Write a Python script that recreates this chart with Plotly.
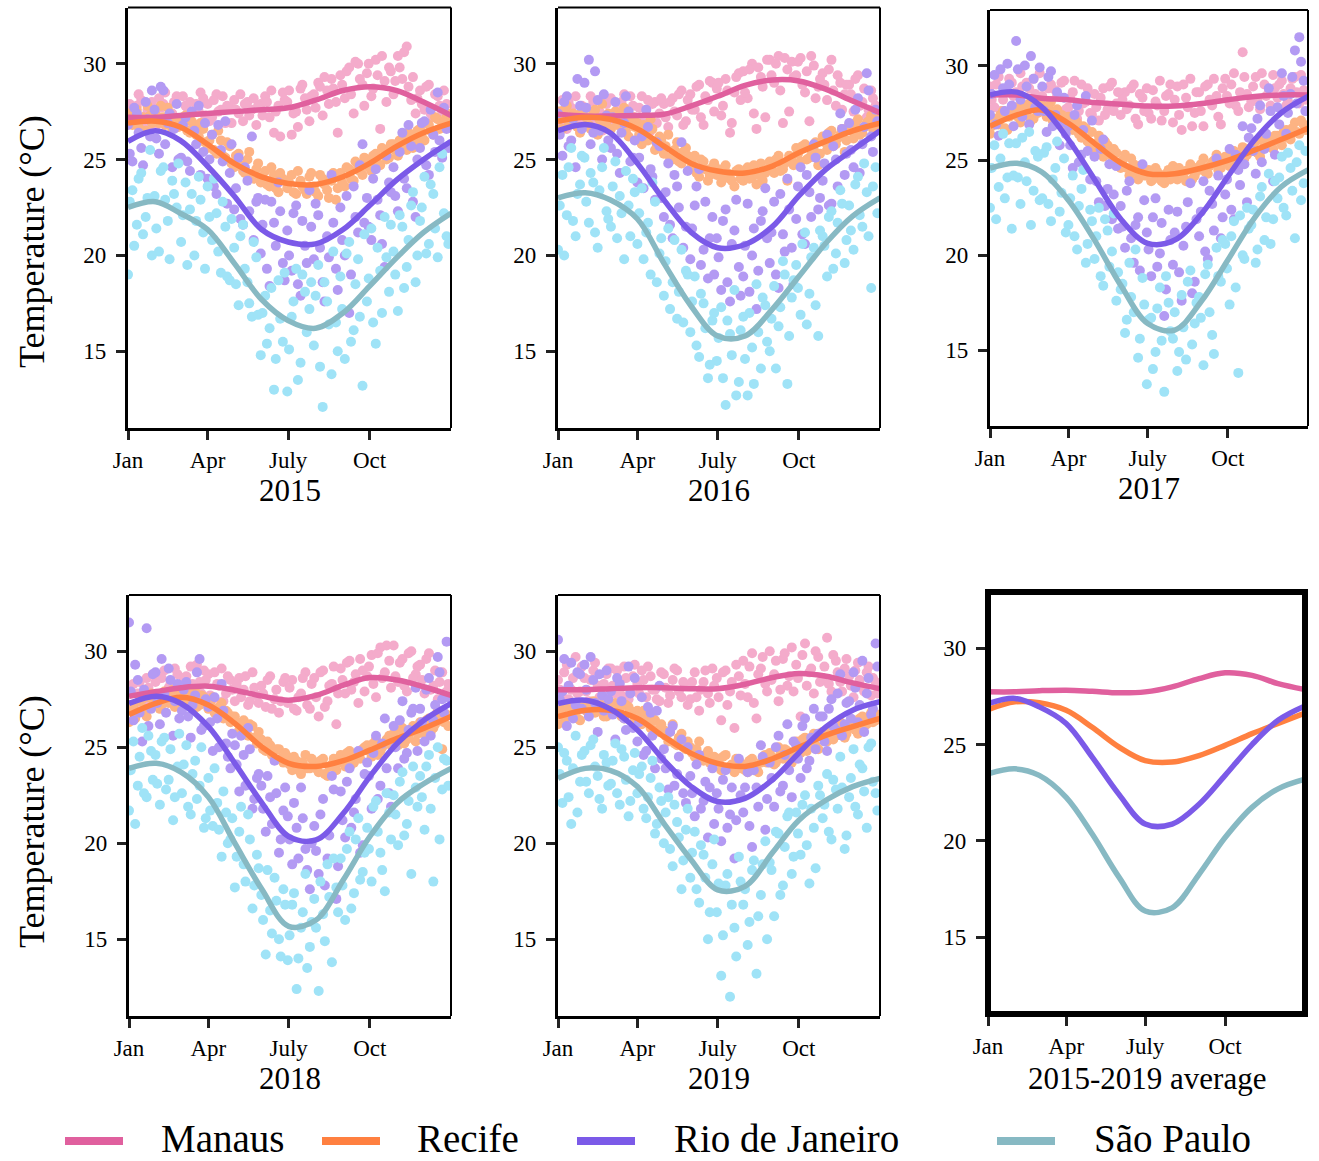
import plotly.graph_objects as go

# ---------------- data ----------------
DAYS = list(range(0, 361, 5))        # sampling days of first scatter set
DAYS_B = list(range(2, 363, 5))      # sampling days of second scatter set
MONTH_START = [0, 31, 59, 90, 120, 151, 181, 212, 243, 273, 304, 334, 365]
TICK_DAYS = [0, 90, 181, 273]
TICK_TEXT = ["Jan", "Apr", "July", "Oct"]
Y_TICKS = [15, 20, 25, 30]
CITIES = ["Manaus", "Recife", "Rio de Janeiro", "São Paulo"]
PANEL_LABELS = ["2015", "2016", "2017", "2018", "2019", "2015-2019 average"]

# ---- 2015 daily temperatures ----
MANAUS_2015 = [27.6, 26.9, 27.8, 28.1, 27.3, 26.8, 27.5, 28.2, 27.9, 26.9, 27.4, 28.3,
               27.1, 27.8, 28.0, 26.7, 27.5, 28.2, 27.9, 27.2, 28.4, 27.6, 26.9, 27.7,
               28.1, 27.4, 27.0, 28.0, 27.6, 26.8, 27.9, 28.3, 27.2, 26.4, 27.8, 28.5,
               28.0, 26.3, 27.5, 28.7, 28.2, 27.0, 28.4, 29.0, 27.3, 28.6, 29.2, 28.0,
               29.4, 28.2, 29.8, 27.4, 30.0, 28.9, 29.5, 28.3, 30.2, 26.6, 29.1, 29.8,
               28.4, 30.4, 29.2, 30.9, 28.1, 27.4, 28.6, 27.6, 28.9, 27.2, 28.3, 27.5, 27.9]
MANAUS_2015_B = [27.9, 27.1, 28.4, 26.7, 27.6, 28.0, 26.8, 27.7, 28.5, 27.3, 28.0, 27.0,
                 28.3, 27.4, 26.9, 27.9, 28.5, 27.3, 27.0, 28.1, 27.5, 28.3, 27.8, 26.9,
                 27.6, 28.4, 27.9, 27.3, 28.2, 27.8, 27.3, 28.0, 28.6, 27.5, 26.2, 28.1,
                 28.6, 27.4, 26.7, 28.9, 27.6, 28.3, 27.7, 28.8, 29.3, 27.9, 28.7, 26.4,
                 28.9, 29.6, 28.4, 30.1, 29.2, 27.8, 30.0, 28.7, 29.4, 30.4, 28.0, 29.6,
                 29.1, 29.8, 30.6, 28.8, 29.3, 28.2, 27.9, 28.8, 27.4, 28.4, 27.8, 28.6, 27.1]
RECIFE_2015 = [27.4, 26.8, 27.6, 27.1, 26.5, 27.3, 27.5, 26.9, 27.2, 27.7, 26.6, 27.1,
               26.9, 27.3, 26.4, 26.8, 26.2, 26.6, 25.6, 26.3, 25.3, 26.0, 25.1, 25.7,
               24.6, 25.3, 24.4, 25.0, 24.1, 24.5, 23.8, 24.4, 23.6, 24.2, 23.3, 24.0,
               23.5, 24.2, 23.2, 23.9, 23.4, 24.1, 23.6, 23.1, 24.0, 23.4, 23.9, 22.9,
               24.3, 23.6, 24.5, 23.9, 24.7, 24.2, 25.0, 24.4, 25.3, 24.7, 25.5, 25.1,
               25.8, 25.2, 26.1, 25.5, 26.3, 25.9, 26.6, 26.0, 26.8, 26.3, 27.1, 26.7, 27.2]
RECIFE_2015_B = [27.0, 27.6, 26.7, 27.2, 27.8, 26.9, 27.3, 27.8, 26.8, 27.4, 27.0, 26.7,
                 27.2, 26.5, 27.0, 26.3, 26.9, 25.9, 26.0, 25.5, 26.5, 25.2, 25.9, 24.8,
                 25.2, 24.7, 24.3, 25.4, 24.0, 24.8, 24.1, 23.7, 24.6, 23.5, 24.3, 23.9,
                 23.8, 23.3, 24.4, 23.6, 23.2, 24.3, 23.3, 24.2, 23.7, 23.0, 24.3, 23.5,
                 23.8, 24.6, 24.0, 24.9, 24.4, 25.1, 24.6, 25.2, 24.8, 25.6, 25.0, 25.8,
                 25.5, 26.0, 25.7, 26.4, 25.6, 26.5, 26.2, 26.9, 26.5, 27.2, 26.6, 26.9, 27.4]
RIO_2015 = [26.8, 24.9, 27.4, 25.6, 28.0, 26.2, 27.6, 25.3, 28.6, 26.9, 24.6, 27.9,
            25.1, 27.2, 24.4, 26.5, 27.8, 25.4, 24.0, 26.3, 23.2, 25.5, 27.0, 24.3,
            22.4, 25.1, 21.6, 23.9, 26.2, 22.8, 20.1, 22.9, 18.4, 21.7, 23.8, 19.6,
            21.3, 19.2, 22.6, 17.9, 20.5, 23.4, 19.8, 22.1, 18.6, 21.0, 24.2, 19.3,
            22.5, 20.0, 17.0, 23.6, 21.2, 25.8, 23.0, 20.8, 24.5, 22.1, 19.4, 23.8,
            24.6, 22.3, 26.4, 23.5, 25.7, 22.0, 25.6, 27.0, 24.2, 26.3, 28.5, 25.1, 26.6]
RIO_2015_B = [25.3, 27.7, 26.4, 24.7, 27.1, 28.6, 26.1, 28.8, 25.8, 27.4, 26.6, 25.0,
              26.8, 24.9, 27.5, 25.8, 24.2, 26.9, 25.0, 23.6, 26.8, 24.9, 22.7, 25.8,
              23.5, 21.9, 24.6, 22.3, 20.8, 23.0, 21.6, 19.3, 22.8, 20.5, 22.3, 18.7,
              20.0, 22.2, 18.5, 21.8, 19.6, 21.5, 22.7, 20.4, 17.6, 19.9, 21.7, 18.2,
              20.8, 23.1, 19.0, 22.0, 24.7, 21.7, 21.5, 24.0, 22.9, 20.6, 25.2, 23.3,
              23.1, 25.4, 24.0, 26.8, 22.8, 25.0, 26.9, 24.7, 27.6, 25.4, 26.0, 27.7, 25.6]
SAOPAULO_2015 = [19.0, 23.4, 21.6, 24.3, 22.0, 25.5, 23.1, 20.2, 24.6, 21.8, 23.9, 22.5,
                 20.7, 23.8, 22.4, 20.0, 24.1, 21.2, 23.6, 20.8, 22.2, 19.1, 21.5, 18.7,
                 20.4, 17.4, 21.6, 18.6, 16.8, 19.9, 14.8, 17.9, 16.2, 13.0, 18.7, 15.5,
                 12.9, 16.8, 19.3, 14.4, 18.1, 17.2, 15.3, 19.5, 12.1, 17.6, 13.8, 16.5,
                 18.9, 14.6, 20.7, 16.1, 19.8, 13.2, 17.6, 21.4, 15.4, 19.2, 22.0, 18.1,
                 20.2, 17.1, 21.5, 19.4, 22.6, 18.6, 21.8, 24.1, 20.6, 23.2, 19.9, 25.3, 21.0]
SAOPAULO_2015_B = [22.8, 20.5, 24.0, 21.1, 23.0, 20.0, 21.4, 24.4, 22.9, 19.8, 23.2, 24.8,
                   22.1, 19.5, 23.2, 21.8, 22.9, 19.3, 22.0, 24.0, 20.2, 22.8, 18.9, 21.9,
                   18.5, 21.0, 19.3, 17.5, 20.7, 16.9, 17.0, 15.4, 18.3, 14.6, 16.7, 19.1,
                   15.1, 17.6, 13.5, 19.0, 16.0, 18.6, 17.9, 14.2, 18.6, 16.4, 20.2, 15.0,
                   17.2, 20.1, 15.5, 18.5, 16.8, 21.1, 18.8, 16.5, 20.4, 17.0, 19.9, 21.6,
                   19.0, 22.1, 18.3, 20.8, 23.3, 20.0, 22.5, 20.1, 23.7, 21.4, 24.6, 22.2, 20.6]

# ---- 2016 ----
MANAUS_2016 = [27.0, 28.1, 26.6, 27.7, 28.3, 26.9, 27.6, 26.8, 28.0, 27.2, 26.5, 27.9,
               28.2, 26.9, 27.5, 28.4, 27.1, 27.8, 26.8, 28.3, 27.6, 26.5, 28.0, 27.4,
               27.9, 26.7, 28.2, 27.3, 28.6, 27.0, 28.4, 27.6, 28.9, 26.8, 28.1, 29.0,
               28.7, 27.3, 29.2, 26.4, 28.5, 29.5, 29.6, 28.2, 30.0, 26.6, 29.3, 27.2,
               30.2, 29.0, 30.4, 26.9, 29.7, 30.1, 29.4, 30.3, 28.5, 27.0, 29.9, 28.8,
               29.5, 28.1, 30.2, 27.8, 29.0, 28.4, 28.9, 27.5, 29.4, 28.0, 27.2, 28.6, 27.8]
MANAUS_2016_B = [27.5, 26.8, 28.0, 27.3, 26.7, 27.8, 27.1, 28.3, 26.9, 27.5, 28.1, 27.3,
                 26.8, 27.6, 28.0, 26.9, 28.3, 27.2, 27.7, 27.0, 28.1, 27.9, 26.9, 28.2,
                 27.2, 28.0, 27.5, 28.4, 26.8, 28.1, 27.6, 28.8, 27.2, 28.3, 29.1, 27.5,
                 29.0, 27.8, 28.6, 26.9, 29.3, 28.1, 28.5, 29.7, 27.4, 29.8, 28.8, 30.2,
                 29.4, 30.0, 28.6, 30.3, 27.5, 29.3, 30.1, 28.9, 29.6, 30.4, 28.2, 29.2,
                 28.9, 29.7, 28.6, 29.4, 27.6, 28.9, 28.4, 29.2, 27.8, 28.7, 27.6, 28.2, 27.4]
RECIFE_2016 = [27.5, 26.6, 27.8, 26.9, 27.3, 26.4, 27.7, 26.8, 27.4, 26.3, 27.9, 27.0,
               26.6, 27.5, 26.9, 27.7, 26.2, 27.2, 26.9, 25.8, 26.4, 27.1, 25.5, 26.2,
               25.3, 26.3, 25.0, 25.9, 24.8, 25.6, 24.5, 25.2, 24.1, 24.9, 23.9, 24.6,
               24.2, 23.8, 24.7, 24.0, 23.6, 24.5, 23.9, 24.6, 24.1, 23.7, 24.8, 24.3,
               24.9, 24.3, 25.2, 24.5, 23.9, 25.0, 25.6, 24.9, 25.8, 25.1, 25.5, 24.7,
               26.2, 25.5, 26.5, 25.8, 26.3, 25.4, 26.8, 26.1, 27.1, 26.4, 26.9, 27.3, 26.6]
RECIFE_2016_B = [27.1, 27.6, 26.8, 27.4, 26.7, 27.5, 27.2, 26.6, 27.6, 27.1, 26.8, 27.4,
                 27.3, 26.8, 27.4, 26.5, 27.0, 26.7, 26.3, 26.8, 26.0, 26.6, 25.8, 26.0,
                 25.7, 25.1, 25.5, 24.9, 25.4, 25.2, 24.8, 24.3, 25.0, 24.5, 24.2, 24.8,
                 24.5, 24.0, 24.3, 23.9, 24.4, 24.0, 24.4, 24.0, 24.7, 24.2, 23.9, 24.5,
                 24.6, 25.0, 24.4, 24.8, 25.2, 24.7, 25.3, 25.7, 25.0, 25.5, 25.9, 25.3,
                 25.9, 26.4, 25.7, 26.1, 26.6, 26.0, 26.5, 26.9, 26.3, 26.7, 27.0, 26.6, 27.2]
RIO_2016 = [27.4, 25.2, 28.3, 26.0, 24.6, 27.8, 29.0, 30.2, 26.4, 28.1, 25.0, 27.3,
            25.6, 28.0, 24.3, 26.9, 27.5, 25.1, 23.8, 26.2, 27.6, 24.5, 22.9, 25.7,
            22.0, 24.8, 20.9, 23.6, 25.9, 21.5, 19.8, 22.6, 24.5, 20.3, 18.8, 22.0,
            20.9, 18.2, 22.4, 17.6, 21.3, 19.4, 18.9, 22.7, 20.0, 17.2, 21.8, 23.5,
            19.6, 22.8, 18.3, 21.1, 24.0, 20.4, 21.9, 24.6, 20.6, 23.3, 25.8, 22.4,
            23.9, 26.3, 22.7, 25.0, 27.4, 24.2, 26.9, 24.6, 28.2, 25.8, 29.5, 26.2, 27.6]
RIO_2016_B = [26.3, 28.0, 25.7, 27.1, 29.2, 26.6, 27.7, 25.8, 29.6, 26.5, 28.4, 26.0,
              27.2, 25.3, 26.4, 28.3, 24.9, 26.0, 25.1, 23.5, 26.7, 24.1, 25.9, 23.0,
              23.3, 21.6, 24.2, 22.5, 20.4, 24.4, 21.4, 23.6, 19.5, 22.8, 20.9, 19.0,
              19.9, 21.8, 18.6, 20.6, 22.9, 17.9, 20.5, 18.1, 21.4, 19.2, 22.3, 20.9,
              21.2, 19.0, 23.2, 20.2, 22.4, 18.5, 23.6, 21.1, 24.2, 22.0, 25.1, 23.0,
              24.8, 22.6, 25.7, 23.6, 26.6, 25.3, 25.5, 27.6, 24.3, 26.7, 28.6, 25.4, 27.0]
SAOPAULO_2016 = [20.3, 24.2, 22.1, 25.6, 21.0, 23.7, 25.1, 21.7, 23.8, 20.4, 24.6, 22.3,
                 21.5, 24.9, 23.1, 19.8, 22.6, 24.0, 20.6, 23.5, 21.2, 19.0, 22.8, 20.1,
                 17.9, 21.4, 18.6, 16.7, 20.3, 19.2, 16.0, 18.9, 14.7, 17.5, 13.6, 16.6,
                 14.5, 17.3, 12.2, 15.9, 18.2, 13.4, 16.8, 12.7, 15.2, 18.5, 14.1, 17.4,
                 15.0, 18.4, 16.3, 19.7, 13.3, 17.8, 19.5, 16.9, 21.2, 18.0, 20.4, 15.8,
                 21.0, 18.9, 22.3, 20.1, 23.4, 19.6, 22.6, 20.3, 24.1, 21.5, 23.3, 18.3, 24.6]
SAOPAULO_2016_B = [22.6, 20.0, 24.6, 21.8, 23.2, 25.2, 22.8, 24.3, 21.2, 23.4, 25.6, 21.9,
                   23.6, 20.9, 22.2, 24.4, 21.0, 23.3, 22.2, 19.8, 21.7, 23.8, 18.6, 20.9,
                   19.7, 17.2, 20.8, 18.1, 16.5, 19.0, 17.6, 15.3, 18.0, 16.2, 14.3, 17.0,
                   15.7, 13.6, 16.6, 14.8, 12.7, 16.1, 14.6, 17.0, 13.3, 16.0, 17.8, 15.5,
                   16.7, 14.1, 17.3, 19.0, 15.8, 18.7, 18.3, 20.6, 16.4, 19.9, 17.4, 21.3,
                   20.5, 22.0, 19.3, 21.7, 22.7, 20.8, 21.3, 23.7, 22.1, 24.8, 21.0, 23.6, 22.2]

# ---- 2017 ----
MANAUS_2017 = [28.9, 27.8, 29.4, 28.2, 27.5, 29.1, 28.6, 29.6, 27.9, 28.8, 29.3, 28.0,
               28.4, 27.6, 29.0, 28.7, 27.4, 29.2, 27.8, 28.6, 27.2, 29.0, 28.1, 27.5,
               28.5, 27.1, 28.8, 27.7, 29.1, 28.0, 27.4, 28.6, 27.9, 29.0, 26.9, 28.3,
               28.8, 27.2, 28.1, 29.2, 27.6, 28.5, 27.0, 28.9, 26.6, 28.3, 29.3, 27.5,
               28.6, 26.8, 29.0, 27.9, 28.4, 26.9, 29.3, 28.0, 29.6, 27.6, 30.7, 28.5,
               28.1, 29.4, 27.7, 29.0, 28.6, 29.5, 28.3, 29.2, 27.9, 28.8, 29.4, 28.0, 28.7]
MANAUS_2017_B = [28.2, 29.0, 27.6, 28.7, 29.3, 28.4, 27.7, 28.9, 29.1, 27.8, 28.5, 29.6,
                 27.9, 28.8, 27.3, 28.4, 29.1, 27.7, 28.3, 29.2, 27.6, 28.0, 28.8, 27.4,
                 27.8, 28.3, 27.4, 28.9, 27.6, 28.6, 28.2, 27.7, 28.8, 27.2, 28.5, 27.6,
                 27.5, 28.7, 27.9, 27.1, 28.4, 29.0, 28.2, 27.4, 29.0, 27.8, 26.8, 28.6,
                 27.6, 28.9, 28.2, 29.3, 27.3, 28.8, 28.4, 29.0, 27.9, 28.6, 29.4, 27.8,
                 28.9, 28.2, 29.6, 28.4, 27.9, 28.8, 29.0, 28.5, 28.1, 29.3, 28.6, 29.5, 28.2]
RECIFE_2017 = [26.4, 27.2, 26.9, 27.6, 26.6, 27.4, 27.8, 27.0, 27.6, 28.0, 27.2, 27.5,
               27.9, 27.3, 28.1, 27.5, 26.9, 27.2, 27.3, 26.6, 27.0, 26.2, 26.7, 25.9,
               25.5, 26.3, 25.2, 25.8, 24.9, 25.4, 24.6, 25.3, 24.2, 24.8, 24.0, 24.5,
               24.2, 23.9, 24.6, 24.1, 23.8, 24.5, 24.7, 24.0, 24.4, 23.9, 24.8, 24.2,
               24.5, 25.1, 24.3, 24.9, 25.3, 24.6, 25.2, 24.7, 25.5, 24.9, 25.7, 25.3,
               25.5, 26.0, 25.2, 25.9, 26.2, 25.6, 26.3, 25.8, 26.6, 26.1, 27.0, 26.4, 26.9]
RECIFE_2017_B = [26.8, 27.0, 27.4, 26.7, 27.3, 27.7, 27.3, 27.9, 27.4, 27.1, 27.7, 28.1,
                 27.6, 27.8, 27.1, 27.7, 27.4, 26.8, 26.9, 27.2, 26.4, 26.8, 26.0, 26.5,
                 25.9, 25.6, 26.0, 25.3, 25.6, 24.8, 25.0, 24.6, 25.1, 24.4, 24.7, 24.2,
                 24.5, 24.0, 24.4, 23.9, 24.3, 24.0, 24.3, 24.6, 24.1, 24.5, 24.0, 24.6,
                 24.8, 24.4, 24.7, 25.0, 24.5, 24.9, 24.9, 25.4, 25.0, 25.3, 25.1, 25.6,
                 25.8, 25.4, 26.1, 25.7, 25.9, 26.3, 26.0, 26.5, 26.2, 26.7, 26.5, 27.1, 26.6]
RIO_2017 = [27.4, 29.5, 26.3, 28.8, 30.1, 27.9, 31.3, 28.2, 30.0, 26.9, 29.3, 27.6,
            28.9, 26.5, 29.7, 27.4, 25.8, 28.3, 26.8, 24.6, 27.9, 25.3, 28.4, 24.0,
            25.2, 22.8, 26.1, 23.5, 21.9, 24.7, 22.6, 20.4, 23.9, 19.6, 22.0, 24.8,
            21.2, 18.9, 23.0, 20.1, 16.8, 22.4, 19.5, 22.3, 17.6, 21.5, 23.8, 18.6,
            21.0, 23.9, 19.8, 22.7, 25.1, 20.9, 23.2, 25.6, 21.9, 24.5, 26.8, 22.8,
            26.7, 24.3, 27.9, 25.6, 28.8, 23.9, 27.8, 29.6, 26.4, 28.5, 30.8, 31.5, 29.2]
RIO_2017_B = [28.5, 26.9, 29.8, 27.6, 29.0, 26.8, 29.8, 27.3, 28.9, 30.5, 27.8, 29.9,
              27.6, 29.4, 26.8, 28.6, 27.0, 26.4, 25.8, 27.4, 24.9, 26.6, 25.5, 27.1,
              23.9, 25.6, 22.6, 24.8, 23.2, 21.4, 21.5, 23.4, 20.9, 21.6, 19.2, 22.9,
              20.3, 22.0, 19.4, 21.7, 18.2, 20.8, 21.2, 19.1, 20.5, 22.8, 18.0, 21.9,
              22.3, 20.2, 23.4, 21.3, 24.2, 22.0, 24.0, 22.4, 25.3, 23.7, 24.8, 26.2,
              25.5, 27.2, 24.9, 26.4, 27.6, 25.3, 26.9, 28.4, 27.5, 29.4, 28.0, 30.2, 27.6]
SAOPAULO_2017 = [22.5, 25.8, 23.6, 26.4, 24.1, 21.4, 25.9, 22.7, 24.9, 26.5, 23.4, 25.2,
                 23.0, 25.7, 21.8, 24.6, 22.3, 25.1, 21.6, 24.2, 20.3, 23.5, 19.6, 22.4,
                 19.8, 22.5, 18.4, 21.3, 20.2, 17.6, 18.2, 15.9, 19.6, 17.0, 14.6, 18.8,
                 13.2, 16.7, 14.9, 18.3, 12.8, 17.5, 15.6, 13.9, 17.9, 14.5, 19.2, 16.4,
                 17.8, 14.2, 19.5, 15.8, 20.4, 18.6, 20.6, 17.4, 21.8, 13.8, 20.0, 22.5,
                 21.6, 19.6, 23.1, 20.8, 24.3, 21.9, 23.0, 25.2, 22.1, 24.6, 20.9, 25.8, 23.8]
SAOPAULO_2017_B = [24.6, 21.9, 25.1, 23.0, 25.9, 24.2, 24.1, 26.2, 23.9, 21.6, 25.5, 22.9,
                   25.4, 22.7, 24.0, 26.0, 23.3, 21.2, 23.0, 21.0, 22.6, 24.5, 20.6, 21.8,
                   21.0, 18.9, 21.9, 19.4, 22.2, 19.1, 18.5, 16.6, 17.8, 20.3, 15.6, 17.4,
                   16.6, 14.0, 17.2, 15.5, 18.9, 16.0, 17.0, 14.9, 16.2, 18.6, 15.3, 17.5,
                   16.7, 19.0, 17.0, 14.8, 18.9, 20.8, 19.3, 21.0, 18.3, 22.1, 19.8, 21.4,
                   22.4, 20.3, 23.6, 22.0, 20.6, 23.9, 24.1, 22.5, 25.4, 23.4, 24.9, 22.9, 25.5]

# ---- 2018 ----
MANAUS_2018 = [27.2, 28.3, 27.8, 26.9, 28.6, 27.5, 28.4, 27.6, 29.0, 28.1, 27.3, 28.8,
               27.9, 28.7, 29.2, 27.6, 28.4, 29.0, 28.8, 27.5, 28.3, 29.1, 27.8, 28.5,
               27.4, 28.6, 28.0, 27.2, 28.9, 27.7, 28.2, 27.1, 28.7, 27.5, 26.8, 28.4,
               27.3, 28.5, 26.9, 27.8, 28.9, 27.0, 28.6, 26.6, 29.0, 27.4, 28.3, 26.2,
               29.1, 27.8, 29.5, 28.4, 27.3, 29.0, 28.7, 29.8, 27.6, 30.2, 28.9, 29.5,
               30.3, 28.4, 29.6, 27.9, 30.0, 28.8, 29.3, 27.8, 29.9, 28.2, 27.5, 28.9, 27.9]
MANAUS_2018_B = [27.9, 27.0, 28.4, 27.4, 28.1, 28.8, 27.7, 28.6, 27.4, 28.3, 29.1, 27.9,
                 28.6, 27.5, 28.3, 29.3, 27.8, 28.5, 27.7, 28.9, 28.2, 27.4, 28.7, 28.0,
                 28.3, 27.6, 28.7, 27.4, 28.1, 27.3, 27.8, 28.5, 27.0, 28.0, 27.4, 28.6,
                 28.1, 27.0, 27.6, 28.6, 27.2, 28.3, 27.6, 28.9, 27.1, 28.2, 29.2, 27.8,
                 28.5, 29.4, 28.0, 28.8, 29.6, 27.9, 29.2, 28.3, 29.9, 28.6, 30.3, 28.1,
                 28.7, 29.4, 28.2, 29.9, 28.6, 29.2, 28.5, 29.6, 28.0, 29.0, 28.4, 27.6, 28.3]
RECIFE_2018 = [26.3, 27.1, 26.8, 27.5, 26.6, 27.8, 27.4, 27.0, 27.9, 27.3, 28.0, 27.6,
               27.7, 28.1, 27.3, 27.9, 27.2, 27.6, 27.0, 27.6, 26.6, 27.3, 26.9, 26.3,
               26.6, 25.9, 26.4, 25.6, 26.1, 25.2, 25.4, 24.8, 25.1, 24.4, 24.9, 24.2,
               24.5, 23.8, 24.3, 23.6, 24.6, 23.9, 24.2, 23.7, 24.4, 23.5, 24.1, 23.8,
               24.6, 24.0, 24.8, 24.2, 24.5, 24.9, 25.1, 24.5, 25.4, 24.8, 25.2, 25.6,
               25.7, 25.1, 26.0, 25.4, 25.9, 25.3, 26.3, 25.7, 26.5, 26.0, 26.9, 24.9, 26.7]
RECIFE_2018_B = [26.9, 26.5, 27.4, 27.0, 27.6, 27.2, 27.7, 27.2, 27.5, 27.8, 27.1, 27.9,
                 27.4, 27.8, 27.5, 27.1, 27.7, 27.3, 27.3, 26.8, 27.1, 26.5, 26.8, 26.6,
                 26.3, 26.0, 25.7, 26.2, 25.5, 25.8, 24.9, 25.3, 24.6, 24.9, 24.4, 24.7,
                 24.1, 24.5, 23.8, 24.2, 23.9, 24.4, 23.9, 24.3, 23.6, 24.0, 24.4, 24.2,
                 24.3, 24.7, 24.1, 24.6, 24.4, 25.0, 24.8, 25.2, 24.6, 25.0, 25.4, 25.1,
                 25.4, 25.8, 25.2, 25.6, 26.1, 25.7, 26.0, 26.4, 25.8, 26.2, 26.6, 26.3, 26.1]
RIO_2018 = [31.5, 26.4, 28.5, 25.3, 31.2, 27.0, 28.9, 26.2, 27.8, 29.1, 25.6, 28.3,
            26.9, 28.4, 25.5, 27.7, 29.6, 26.1, 27.1, 24.8, 26.5, 28.3, 25.2, 23.9,
            25.1, 22.7, 24.6, 26.0, 21.8, 23.4, 23.0, 20.6, 22.4, 24.3, 19.5, 21.7,
            21.4, 18.9, 20.8, 22.9, 19.7, 17.6, 20.9, 18.4, 22.3, 19.2, 23.5, 17.1,
            22.7, 20.3, 23.9, 21.6, 24.8, 19.9, 24.2, 21.8, 25.6, 23.0, 26.5, 22.6,
            26.1, 23.9, 27.4, 24.7, 26.8, 28.1, 27.0, 25.3, 28.6, 26.4, 29.7, 27.5, 30.5]
RIO_2018_B = [27.9, 29.3, 26.8, 28.0, 26.1, 28.8, 27.3, 29.6, 26.8, 28.5, 27.4, 26.5,
              28.0, 26.6, 27.2, 28.9, 25.9, 27.5, 26.3, 27.6, 25.0, 26.9, 24.5, 25.7,
              24.1, 25.6, 23.0, 24.9, 22.3, 23.6, 21.8, 23.5, 21.0, 22.6, 20.2, 22.9,
              20.2, 22.1, 19.2, 21.3, 18.6, 20.0, 19.6, 21.5, 17.8, 20.4, 22.8, 18.8,
              21.2, 23.2, 20.8, 22.3, 19.5, 23.6, 23.5, 24.7, 22.3, 25.2, 23.9, 21.9,
              25.0, 26.4, 24.4, 25.9, 27.0, 24.8, 26.3, 28.0, 25.6, 27.2, 28.9, 26.8, 27.6]
SAOPAULO_2018 = [21.7, 25.3, 23.0, 26.0, 22.4, 24.8, 24.6, 22.0, 25.5, 23.3, 21.2, 24.0,
                 22.6, 25.1, 21.5, 24.3, 23.0, 20.8, 23.4, 20.9, 22.1, 19.3, 21.6, 20.2,
                 17.7, 20.6, 18.9, 21.5, 16.6, 19.4, 17.3, 14.2, 16.5, 18.2, 15.0, 17.6,
                 13.9, 16.8, 12.4, 15.6, 18.4, 14.6, 17.1, 12.3, 16.3, 18.9, 13.8, 17.7,
                 19.2, 16.0, 20.6, 17.4, 21.3, 18.5, 20.8, 18.0, 22.2, 19.5, 17.5, 21.6,
                 22.5, 19.9, 23.7, 21.0, 18.4, 22.9, 23.5, 20.7, 24.6, 18.0, 25.0, 22.8, 24.3]
SAOPAULO_2018_B = [23.8, 21.0, 24.5, 22.6, 25.6, 23.3, 23.1, 25.3, 22.8, 24.9, 22.4, 25.7,
                   24.1, 21.9, 23.6, 22.3, 25.0, 21.3, 21.7, 23.9, 20.7, 22.7, 20.0, 21.3,
                   19.3, 21.9, 18.0, 20.2, 17.8, 18.7, 16.0, 18.6, 15.3, 17.0, 14.1, 16.8,
                   15.2, 17.4, 14.0, 16.4, 13.5, 15.9, 15.6, 18.0, 14.9, 17.2, 19.2, 16.4,
                   17.8, 19.7, 16.6, 20.2, 18.1, 19.5, 19.7, 21.9, 20.6, 18.6, 22.6, 20.2,
                   21.5, 23.2, 20.4, 22.2, 24.0, 21.9, 22.4, 24.0, 21.8, 23.4, 20.2, 24.4, 23.0]

# ---- 2019 ----
MANAUS_2019 = [28.5, 27.6, 29.3, 28.0, 29.7, 27.9, 28.6, 27.4, 29.0, 28.2, 27.7, 28.8,
               29.1, 27.8, 28.4, 29.2, 27.5, 28.7, 28.3, 29.0, 27.6, 28.7, 28.0, 27.4,
               28.8, 27.3, 28.5, 29.0, 27.6, 28.2, 27.5, 28.9, 26.9, 28.4, 27.8, 29.1,
               28.6, 26.4, 29.0, 27.9, 26.0, 28.7, 29.5, 27.6, 29.9, 26.5, 29.1, 28.3,
               30.0, 28.8, 27.4, 29.6, 28.2, 30.2, 29.3, 26.6, 30.4, 28.9, 27.8, 29.7,
               28.6, 30.7, 27.9, 29.5, 28.4, 29.1, 28.7, 27.6, 29.4, 28.1, 28.9, 27.7, 28.4]
MANAUS_2019_B = [28.0, 28.9, 27.5, 28.6, 27.8, 29.2, 27.9, 28.5, 29.4, 27.6, 28.3, 29.1,
                 28.2, 29.0, 27.7, 28.6, 27.9, 29.3, 27.8, 28.5, 29.2, 28.0, 27.5, 28.9,
                 28.1, 27.7, 29.1, 27.9, 28.4, 27.2, 28.4, 27.6, 28.0, 29.0, 27.3, 28.2,
                 27.6, 28.9, 27.2, 28.4, 29.3, 27.7, 28.3, 29.2, 27.3, 28.8, 29.7, 27.9,
                 28.5, 29.5, 28.0, 29.9, 28.7, 27.9, 28.6, 29.8, 28.2, 29.1, 30.0, 28.4,
                 29.2, 28.3, 29.8, 28.9, 27.9, 29.6, 28.2, 29.0, 28.5, 27.9, 29.2, 28.6, 27.8]
RECIFE_2019 = [26.2, 27.0, 26.6, 27.3, 26.8, 26.4, 27.1, 26.7, 27.4, 26.9, 27.2, 26.6,
               26.8, 27.3, 27.0, 26.5, 27.1, 26.7, 26.9, 26.2, 26.7, 26.0, 26.4, 25.8,
               25.9, 25.3, 26.2, 25.1, 25.7, 24.9, 25.0, 24.5, 25.3, 24.3, 24.8, 24.1,
               24.4, 23.8, 24.6, 24.0, 23.7, 24.3, 24.1, 23.7, 24.4, 23.9, 24.2, 24.6,
               24.7, 24.1, 25.0, 24.4, 24.8, 24.2, 25.3, 24.7, 25.5, 25.0, 25.7, 24.9,
               25.8, 25.3, 26.1, 25.6, 26.3, 25.5, 26.0, 26.4, 25.7, 26.6, 26.2, 26.8, 26.4]
RECIFE_2019_B = [26.7, 26.3, 27.1, 26.9, 26.5, 27.2, 26.9, 27.3, 26.8, 27.1, 26.6, 27.0,
                 27.2, 26.8, 26.6, 27.2, 26.9, 26.4, 26.6, 26.9, 26.3, 26.5, 25.9, 26.2,
                 25.6, 25.8, 25.2, 25.5, 25.0, 25.3, 24.7, 24.9, 24.4, 24.6, 24.2, 24.5,
                 24.2, 24.5, 23.9, 24.1, 24.4, 23.9, 23.8, 24.3, 24.0, 23.7, 24.4, 24.2,
                 24.5, 24.2, 24.6, 24.9, 24.3, 24.7, 25.0, 25.4, 24.8, 25.2, 25.1, 25.6,
                 25.6, 25.9, 25.4, 25.8, 26.0, 25.7, 26.2, 25.9, 26.5, 26.1, 26.6, 26.3, 26.7]
RIO_2019 = [30.6, 27.9, 26.1, 29.4, 27.2, 28.8, 29.3, 26.6, 28.5, 25.8, 27.7, 29.0,
            27.9, 25.4, 28.3, 26.5, 29.2, 26.0, 25.3, 27.6, 24.8, 26.8, 23.9, 28.2,
            24.9, 22.8, 26.1, 23.6, 25.4, 22.1, 23.5, 21.4, 24.6, 22.2, 20.3, 23.9,
            22.6, 20.1, 23.8, 21.5, 19.2, 24.4, 21.6, 23.7, 19.8, 22.9, 25.1, 20.7,
            24.2, 21.9, 25.6, 23.0, 26.2, 22.4, 25.1, 23.4, 26.5, 24.3, 27.0, 25.7,
            26.6, 24.8, 27.5, 25.9, 28.8, 26.2, 27.4, 28.9, 26.3, 29.5, 27.8, 26.7, 30.4]
RIO_2019_B = [27.5, 29.6, 28.2, 26.5, 28.9, 27.0, 28.0, 29.7, 27.3, 28.8, 26.9, 27.5,
              26.7, 28.6, 27.4, 25.9, 27.8, 28.6, 26.3, 24.6, 27.1, 25.6, 26.9, 24.4,
              23.9, 25.8, 23.0, 24.5, 22.6, 25.0, 22.6, 24.1, 21.8, 23.2, 22.9, 21.0,
              21.8, 23.3, 20.8, 22.9, 21.2, 22.5, 22.9, 20.9, 23.8, 21.9, 24.5, 22.3,
              23.4, 25.0, 22.7, 24.6, 23.8, 25.3, 24.4, 26.1, 23.9, 25.5, 24.9, 26.6,
              25.3, 27.0, 26.1, 27.8, 25.6, 27.3, 26.5, 28.1, 27.2, 25.8, 28.6, 27.0, 29.2]
SAOPAULO_2019 = [25.0, 22.1, 24.3, 21.0, 25.6, 23.2, 24.8, 22.6, 25.4, 23.5, 21.8, 24.2,
                 23.1, 25.2, 22.0, 24.5, 21.4, 23.8, 22.6, 24.0, 21.3, 23.4, 20.5, 22.9,
                 20.0, 22.4, 18.8, 21.1, 17.6, 20.7, 18.2, 20.6, 16.9, 19.4, 15.0, 18.9,
                 16.4, 13.1, 17.8, 12.0, 15.6, 19.3, 16.8, 14.7, 18.6, 13.2, 17.3, 20.1,
                 19.0, 16.2, 20.5, 17.8, 21.4, 18.4, 21.6, 19.4, 22.5, 17.9, 20.8, 23.0,
                 21.3, 23.6, 20.2, 22.8, 24.5, 19.7, 22.4, 24.9, 21.5, 23.9, 20.8, 25.2, 22.6]
SAOPAULO_2019_B = [23.6, 24.7, 22.4, 23.9, 21.6, 24.6, 23.2, 25.1, 24.0, 22.3, 24.6, 23.0,
                   24.3, 22.6, 24.9, 23.3, 22.2, 24.7, 23.6, 21.8, 22.4, 24.3, 21.0, 22.2,
                   21.6, 19.7, 22.0, 20.3, 19.1, 21.8, 19.5, 17.6, 19.9, 18.2, 16.4, 20.2,
                   17.9, 15.2, 18.4, 16.8, 14.1, 18.0, 17.6, 15.9, 19.1, 16.2, 18.9, 15.0,
                   18.6, 20.6, 17.3, 19.8, 21.6, 19.3, 20.5, 22.0, 19.9, 21.8, 18.7, 22.5,
                   22.0, 20.6, 23.3, 21.8, 22.9, 20.4, 23.4, 21.9, 24.1, 22.7, 25.0, 23.2, 21.7]

# ---- smoothed curves (values at month starts) ----
MANAUS_2015_FIT = [27.2, 27.2, 27.3, 27.4, 27.5, 27.6, 27.7, 28.1, 28.6, 28.8, 28.6, 28.0, 27.3]
RECIFE_2015_FIT = [26.9, 27.0, 26.7, 25.8, 24.8, 24.1, 23.75, 23.7, 24.1, 24.8, 25.7, 26.4, 26.9]
RIO_2015_FIT = [25.95, 26.5, 26.0, 24.65, 23.1, 21.35, 20.7, 20.6, 21.35, 22.6, 23.95, 25.0, 25.95]
SAOPAULO_2015_FIT = [22.5, 22.8, 22.2, 21.35, 19.6, 17.7, 16.6, 16.2, 17.0, 18.4, 19.9, 21.2, 22.2]

MANAUS_2016_FIT = [27.36, 27.27, 27.27, 27.3, 27.36, 27.8, 28.3, 28.87, 29.15, 29.1, 28.66, 28.05, 27.44]
RECIFE_2016_FIT = [27.0, 27.2, 27.1, 26.6, 25.7, 24.8, 24.4, 24.3, 24.66, 25.35, 25.96, 26.5, 26.9]
RIO_2016_FIT = [26.5, 26.83, 26.4, 24.8, 22.9, 21.2, 20.4, 20.57, 21.5, 23.1, 24.5, 25.5, 26.5]
SAOPAULO_2016_FIT = [23.0, 23.27, 22.9, 21.9, 19.6, 17.35, 15.8, 15.8, 17.2, 18.9, 20.66, 22.05, 23.0]

MANAUS_2017_FIT = [28.45, 28.45, 28.28, 28.2, 28.05, 27.96, 27.87, 27.87, 28.0, 28.2, 28.37, 28.45, 28.45]
RECIFE_2017_FIT = [26.8, 27.4, 27.66, 26.96, 25.9, 24.85, 24.3, 24.3, 24.6, 25.0, 25.55, 26.1, 26.7]
RIO_2017_FIT = [28.45, 28.6, 27.84, 26.1, 24.0, 21.86, 20.63, 20.8, 22.2, 24.15, 26.1, 27.5, 28.37]
SAOPAULO_2017_FIT = [24.6, 24.85, 24.4, 22.9, 20.8, 18.35, 16.4, 16.06, 17.6, 19.75, 22.0, 23.6, 24.5]

MANAUS_2018_FIT = [27.66, 27.9, 28.1, 28.18, 27.97, 27.66, 27.45, 27.7, 28.23, 28.63, 28.5, 28.15, 27.7]
RECIFE_2018_FIT = [26.7, 27.3, 27.6, 27.2, 26.24, 25.0, 24.16, 24.0, 24.3, 24.85, 25.46, 25.98, 26.6]
RIO_2018_FIT = [27.28, 27.66, 27.28, 26.07, 24.16, 22.08, 20.35, 20.17, 21.56, 23.47, 25.2, 26.4, 27.28]
SAOPAULO_2018_FIT = [23.9, 24.16, 23.7, 22.4, 20.0, 17.57, 15.67, 16.0, 18.1, 20.35, 22.1, 23.1, 23.9]

MANAUS_2019_FIT = [28.0, 28.0, 28.05, 28.1, 28.1, 28.05, 28.05, 28.28, 28.63, 28.84, 28.7, 28.35, 28.05]
RECIFE_2019_FIT = [26.6, 26.93, 26.93, 26.5, 25.55, 24.68, 24.16, 24.0, 24.4, 25.0, 25.63, 26.07, 26.5]
RIO_2019_FIT = [27.28, 27.45, 27.0, 25.9, 24.33, 22.95, 22.17, 22.34, 23.3, 24.7, 26.07, 26.93, 27.37]
SAOPAULO_2019_FIT = [23.38, 23.9, 23.8, 22.95, 21.04, 19.13, 17.57, 17.75, 19.5, 21.2, 22.25, 22.95, 23.38]

MANAUS_AVG_FIT = [27.74, 27.74, 27.8, 27.83, 27.77, 27.69, 27.74, 28.0, 28.43, 28.73, 28.6, 28.17, 27.86]
RECIFE_AVG_FIT = [26.82, 27.22, 27.17, 26.78, 25.9, 24.87, 24.17, 24.09, 24.43, 24.96, 25.57, 26.1, 26.64]
RIO_AVG_FIT = [27.13, 27.4, 26.96, 26.1, 24.35, 22.4, 20.87, 20.87, 21.9, 23.4, 25.0, 26.26, 27.0]
SAOPAULO_AVG_FIT = [23.48, 23.74, 23.4, 22.26, 20.35, 18.1, 16.35, 16.52, 18.26, 20.17, 21.74, 22.7, 23.2]

# ---------------- styling ----------------
POINT_COLORS = ["#f4abcb", "#fdb383", "#b39af3", "#9fe3f7"]
LINE_COLORS = ["#e0609e", "#ff8040", "#7b5ae8", "#87b9c3"]
FONT = "Liberation Serif, Times New Roman, serif"
W, H = 1319, 1161

PANEL_POINTS = [
    [(MANAUS_2015, MANAUS_2015_B), (RECIFE_2015, RECIFE_2015_B), (RIO_2015, RIO_2015_B), (SAOPAULO_2015, SAOPAULO_2015_B)],
    [(MANAUS_2016, MANAUS_2016_B), (RECIFE_2016, RECIFE_2016_B), (RIO_2016, RIO_2016_B), (SAOPAULO_2016, SAOPAULO_2016_B)],
    [(MANAUS_2017, MANAUS_2017_B), (RECIFE_2017, RECIFE_2017_B), (RIO_2017, RIO_2017_B), (SAOPAULO_2017, SAOPAULO_2017_B)],
    [(MANAUS_2018, MANAUS_2018_B), (RECIFE_2018, RECIFE_2018_B), (RIO_2018, RIO_2018_B), (SAOPAULO_2018, SAOPAULO_2018_B)],
    [(MANAUS_2019, MANAUS_2019_B), (RECIFE_2019, RECIFE_2019_B), (RIO_2019, RIO_2019_B), (SAOPAULO_2019, SAOPAULO_2019_B)],
    None,
]
PANEL_FITS = [
    [MANAUS_2015_FIT, RECIFE_2015_FIT, RIO_2015_FIT, SAOPAULO_2015_FIT],
    [MANAUS_2016_FIT, RECIFE_2016_FIT, RIO_2016_FIT, SAOPAULO_2016_FIT],
    [MANAUS_2017_FIT, RECIFE_2017_FIT, RIO_2017_FIT, SAOPAULO_2017_FIT],
    [MANAUS_2018_FIT, RECIFE_2018_FIT, RIO_2018_FIT, SAOPAULO_2018_FIT],
    [MANAUS_2019_FIT, RECIFE_2019_FIT, RIO_2019_FIT, SAOPAULO_2019_FIT],
    [MANAUS_AVG_FIT, RECIFE_AVG_FIT, RIO_AVG_FIT, SAOPAULO_AVG_FIT],
]

# panel boxes in pixels: (left, right, top, bottom)
BOXES = [
    (128, 451, 7.5, 428),
    (558, 880, 7.5, 428),
    (990, 1308, 10, 426),
    (129, 451, 595, 1016),
    (558, 880, 595, 1016),
    (988, 1305, 592, 1014),
]
LABEL_Y = [490, 490, 488, 1078, 1078, 1078]

fig = go.Figure()

for p in range(6):
    ax = "" if p == 0 else str(p + 1)
    xref, yref = "x" + ax, "y" + ax
    pts = PANEL_POINTS[p]
    if pts is not None:
        for c in range(4):
            a, b = pts[c]
            fig.add_trace(go.Scatter(
                x=DAYS + DAYS_B, y=list(a) + list(b), mode="markers", xaxis=xref, yaxis=yref,
                marker=dict(color=POINT_COLORS[c], size=10, line=dict(width=0)),
                showlegend=False, hoverinfo="skip"))
    for c in range(4):
        fig.add_trace(go.Scatter(
            x=MONTH_START, y=PANEL_FITS[p][c], mode="lines", xaxis=xref, yaxis=yref,
            line=dict(color=LINE_COLORS[c], width=5.5, shape="spline", smoothing=1.0),
            name=CITIES[c], showlegend=False, hoverinfo="skip"))

layout = dict(
    width=W, height=H, margin=dict(l=0, r=0, t=0, b=0, pad=0), autosize=False,
    paper_bgcolor="white", plot_bgcolor="white",
    font=dict(family=FONT, color="black"),
    shapes=[], annotations=[],
)

for p, (l, r, t, b) in enumerate(BOXES):
    ax = "" if p == 0 else str(p + 1)
    common = dict(showgrid=False, zeroline=False, showline=True, linecolor="black",
                  linewidth=3.3, ticks="outside", ticklen=9, tickwidth=3, automargin=False,
                  tickcolor="#222", tickfont=dict(size=23, family=FONT, color="black"))
    layout["xaxis" + ax] = dict(domain=[l / W, r / W], range=[0, 365],
                                tickvals=TICK_DAYS, ticktext=TICK_TEXT,
                                anchor="y" + ax, **common)
    layout["yaxis" + ax] = dict(domain=[1 - b / H, 1 - t / H], range=[11.0, 32.93],
                                tickvals=Y_TICKS, anchor="x" + ax, ticklabelstandoff=5,
                                **common)
    dx, dy = "x" + ax + " domain", "y" + ax + " domain"
    if p < 5:
        layout["shapes"].append(dict(type="line", xref=dx, yref=dy, x0=0, x1=1, y0=1, y1=1,
                                     line=dict(color="black", width=2)))
        layout["shapes"].append(dict(type="line", xref=dx, yref=dy, x0=1, x1=1, y0=0, y1=1,
                                     line=dict(color="black", width=2)))
    else:
        layout["shapes"].append(dict(type="rect", xref=dx, yref=dy, x0=0, x1=1, y0=0, y1=1,
                                     line=dict(color="black", width=6)))
    layout["annotations"].append(dict(
        text=PANEL_LABELS[p], xref="paper", yref="paper", x=(l + r) / 2 / W,
        y=1 - LABEL_Y[p] / H, xanchor="center", yanchor="middle", showarrow=False,
        font=dict(size=31, family=FONT, color="black")))

for yc in (242, 822):
    layout["annotations"].append(dict(
        text="Temperature (°C)", xref="paper", yref="paper", x=32 / W, y=1 - yc / H,
        xanchor="center", yanchor="middle", textangle=-90, showarrow=False,
        font=dict(size=36, family=FONT, color="black")))

# legend
LEG_SYM_X = [65, 322, 577, 997]
LEG_TXT_X = [160, 416, 673, 1093]
for c in range(4):
    layout["shapes"].append(dict(type="line", xref="paper", yref="paper",
                                 x0=LEG_SYM_X[c] / W, x1=(LEG_SYM_X[c] + 58) / W,
                                 y0=1 - 1141 / H, y1=1 - 1141 / H,
                                 line=dict(color=LINE_COLORS[c], width=8)))
    layout["annotations"].append(dict(
        text=CITIES[c], xref="paper", yref="paper", x=LEG_TXT_X[c] / W, y=0.0,
        xanchor="left", yanchor="bottom", showarrow=False, borderpad=0,
        font=dict(size=39, family=FONT, color="black")))

fig.update_layout(**layout)
fig.write_html("out.html", config={"displayModeBar": False},
               post_script="document.body.style.margin='0px';")
